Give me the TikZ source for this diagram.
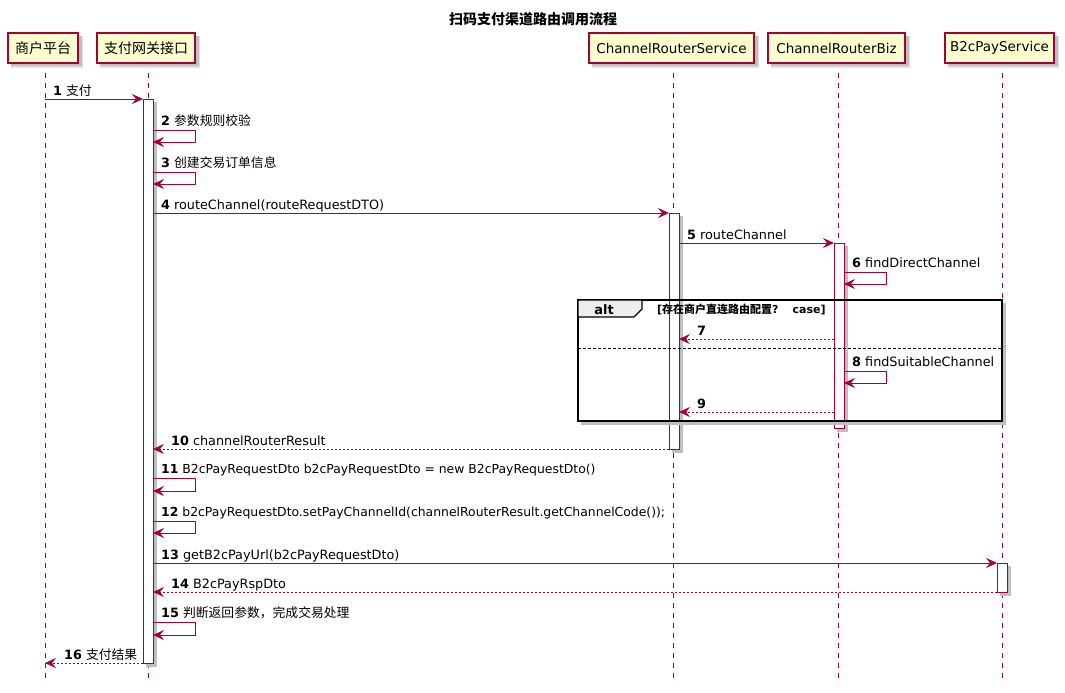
\documentclass[tikz,border=0pt]{standalone}
\usepackage{fontspec}
\setmainfont{DejaVu Sans}
\newfontfamily\cjk{Noto Sans CJK SC}
\usetikzlibrary{arrows.meta}
\definecolor{pred}{HTML}{A80036}
\definecolor{pfill}{HTML}{FEFECE}
\definecolor{tabfill}{HTML}{EEEEEE}
\tikzset{
  part/.style={draw=pred, fill=pfill, line width=1.2pt, minimum height=30pt, inner sep=0pt, font=\fontsize{13.5}{16}\selectfont},
  life/.style={draw=pred, line width=0.8pt, dash pattern=on 5pt off 5pt},
  actbar/.style={draw=pred, fill=white, line width=0.9pt},
  msg/.style={draw=pred, line width=0.9pt, -{Stealth[length=11pt,width=10pt,inset=4pt]}},
  ret/.style={msg, dash pattern=on 2pt off 2pt},
  lbl/.style={anchor=base west, inner sep=0pt, font=\fontsize{12.8}{15}\selectfont},
  lblsm/.style={lbl, font=\fontsize{12.4}{15}\selectfont},
}
\begin{document}
\begin{tikzpicture}[x=1pt,y=-1pt]
\useasboundingbox (0,0) rectangle (1065,693);
\fill[white] (0,0) rectangle (1065,693);

% title
\node[font=\cjk\bfseries\fontsize{14}{16}\selectfont] (title) at (533,19) {扫码支付渠道路由调用流程};

% lifelines
\draw[life] (45,63) -- (45,683);
\draw[life] (148,63) -- (148,683);
\draw[life] (673.5,63) -- (673.5,683);
\draw[life] (838.5,63) -- (838.5,683);
\draw[life] (1002,63) -- (1002,683);

% participant shadows
\foreach \a/\b in {8/78, 97/195, 589/754, 768/905, 945/1054}{
  \fill[black!12] (\a+3,36) rectangle (\b+5,68);
  \fill[black!25] (\a+3,36) rectangle (\b+3.5,66.5);
}
% participants
\node[part, minimum width=70pt] (p1) at (43,48) {\cjk\fontsize{14}{16}\selectfont 商户平台};
\node[part, minimum width=98pt] (p2) at (146,48) {\cjk\fontsize{14}{16}\selectfont 支付网关接口};
\node[part, minimum width=165pt] (p3) at (671.5,48) {ChannelRouterService};
\node[part, minimum width=137pt] (p4) at (836.5,48) {ChannelRouterBiz};
\node[part, minimum width=109pt] (p5) at (999.5,48) {B2cPayService};

% activation shadows + bars
\foreach \a/\t/\b in {143/99/663, 669/213/449, 834/243/428, 997/563/592}{
  \fill[black!25] (\a+3,\t+3) rectangle (\a+13.5,\b+3.5);
  \draw[actbar] (\a,\t) rectangle (\a+10,\b);
}

% alt frame
\fill[black!25] (1002,303) rectangle (1005.5,424.5);
\fill[black!25] (581,421) rectangle (1005.5,424.5);
\draw[black, line width=1.6pt] (578,300) rectangle (1002,421);
\draw[black, fill=tabfill, line width=1.3pt] (578,300) -- (642,300) -- (642,309) -- (634,317) -- (578,317) -- cycle;
\node[font=\bfseries\fontsize{13}{15}\selectfont, inner sep=0pt] (altlbl) at (604,309.5) {alt};
\node[anchor=base west, inner sep=0pt, font=\bfseries\fontsize{11}{13}\selectfont] (cond) at (657,313) {[{\cjk 存在商户直连路由配置}?\hspace{14pt}case]};
\draw[black, line width=0.9pt, dash pattern=on 3pt off 2pt] (578,348) -- (1002,348);

% messages
\draw[msg] (45,99) -- (143,99);
\node[lbl] (m1) at (53,95) {\textbf{1} {\cjk 支付}};

\draw[msg] (153,130) -- (195,130) -- (195,142) -- (153,142);
\node[lbl] (m2) at (161,125) {\textbf{2} {\cjk 参数规则校验}};

\draw[msg] (153,172) -- (195,172) -- (195,184) -- (153,184);
\node[lbl] (m3) at (161,167) {\textbf{3} {\cjk 创建交易订单信息}};

\draw[msg] (153,213) -- (669,213);
\node[lbl] (m4) at (161,209) {\textbf{4} routeChannel(routeRequestDTO)};

\draw[msg] (679,243) -- (834,243);
\node[lbl] (m5) at (687,239) {\textbf{5} routeChannel};

\draw[msg] (844,272) -- (886,272) -- (886,284) -- (844,284);
\node[lbl] (m6) at (852,267.5) {\textbf{6} findDirectChannel};

\draw[ret] (834,339) -- (679,339);
\node[lbl] (m7) at (697,335) {\textbf{7}};

\draw[msg] (844,371) -- (886,371) -- (886,383) -- (844,383);
\node[lbl] (m8) at (852,366.5) {\textbf{8} findSuitableChannel};

\draw[ret] (834,412) -- (679,412);
\node[lbl] (m9) at (697,408) {\textbf{9}};

\draw[ret] (669,449) -- (153,449);
\node[lbl] (m10) at (171,445) {\textbf{10} channelRouterResult};

\draw[msg] (153,478) -- (195,478) -- (195,491) -- (153,491);
\node[lblsm] (m11) at (161,473.5) {\textbf{11} B2cPayRequestDto b2cPayRequestDto = new B2cPayRequestDto()};

\draw[msg] (153,521) -- (195,521) -- (195,533) -- (153,533);
\node[lblsm] (m12) at (161,516.5) {\textbf{12} b2cPayRequestDto.setPayChannelId(channelRouterResult.getChannelCode());};

\draw[msg] (153,563) -- (997,563);
\node[lbl] (m13) at (161,559) {\textbf{13} getB2cPayUrl(b2cPayRequestDto)};

\draw[ret] (997,592) -- (153,592);
\node[lbl] (m14) at (171,588) {\textbf{14} B2cPayRspDto};

\draw[msg] (153,622) -- (195,622) -- (195,635) -- (153,635);
\node[lbl] (m15) at (161,617.5) {\textbf{15} {\cjk 判断返回参数，完成交易处理}};

\draw[ret] (143,663) -- (45,663);
\node[lbl] (m16) at (64,659) {\textbf{16} {\cjk 支付结果}};
\end{tikzpicture}
\end{document}
